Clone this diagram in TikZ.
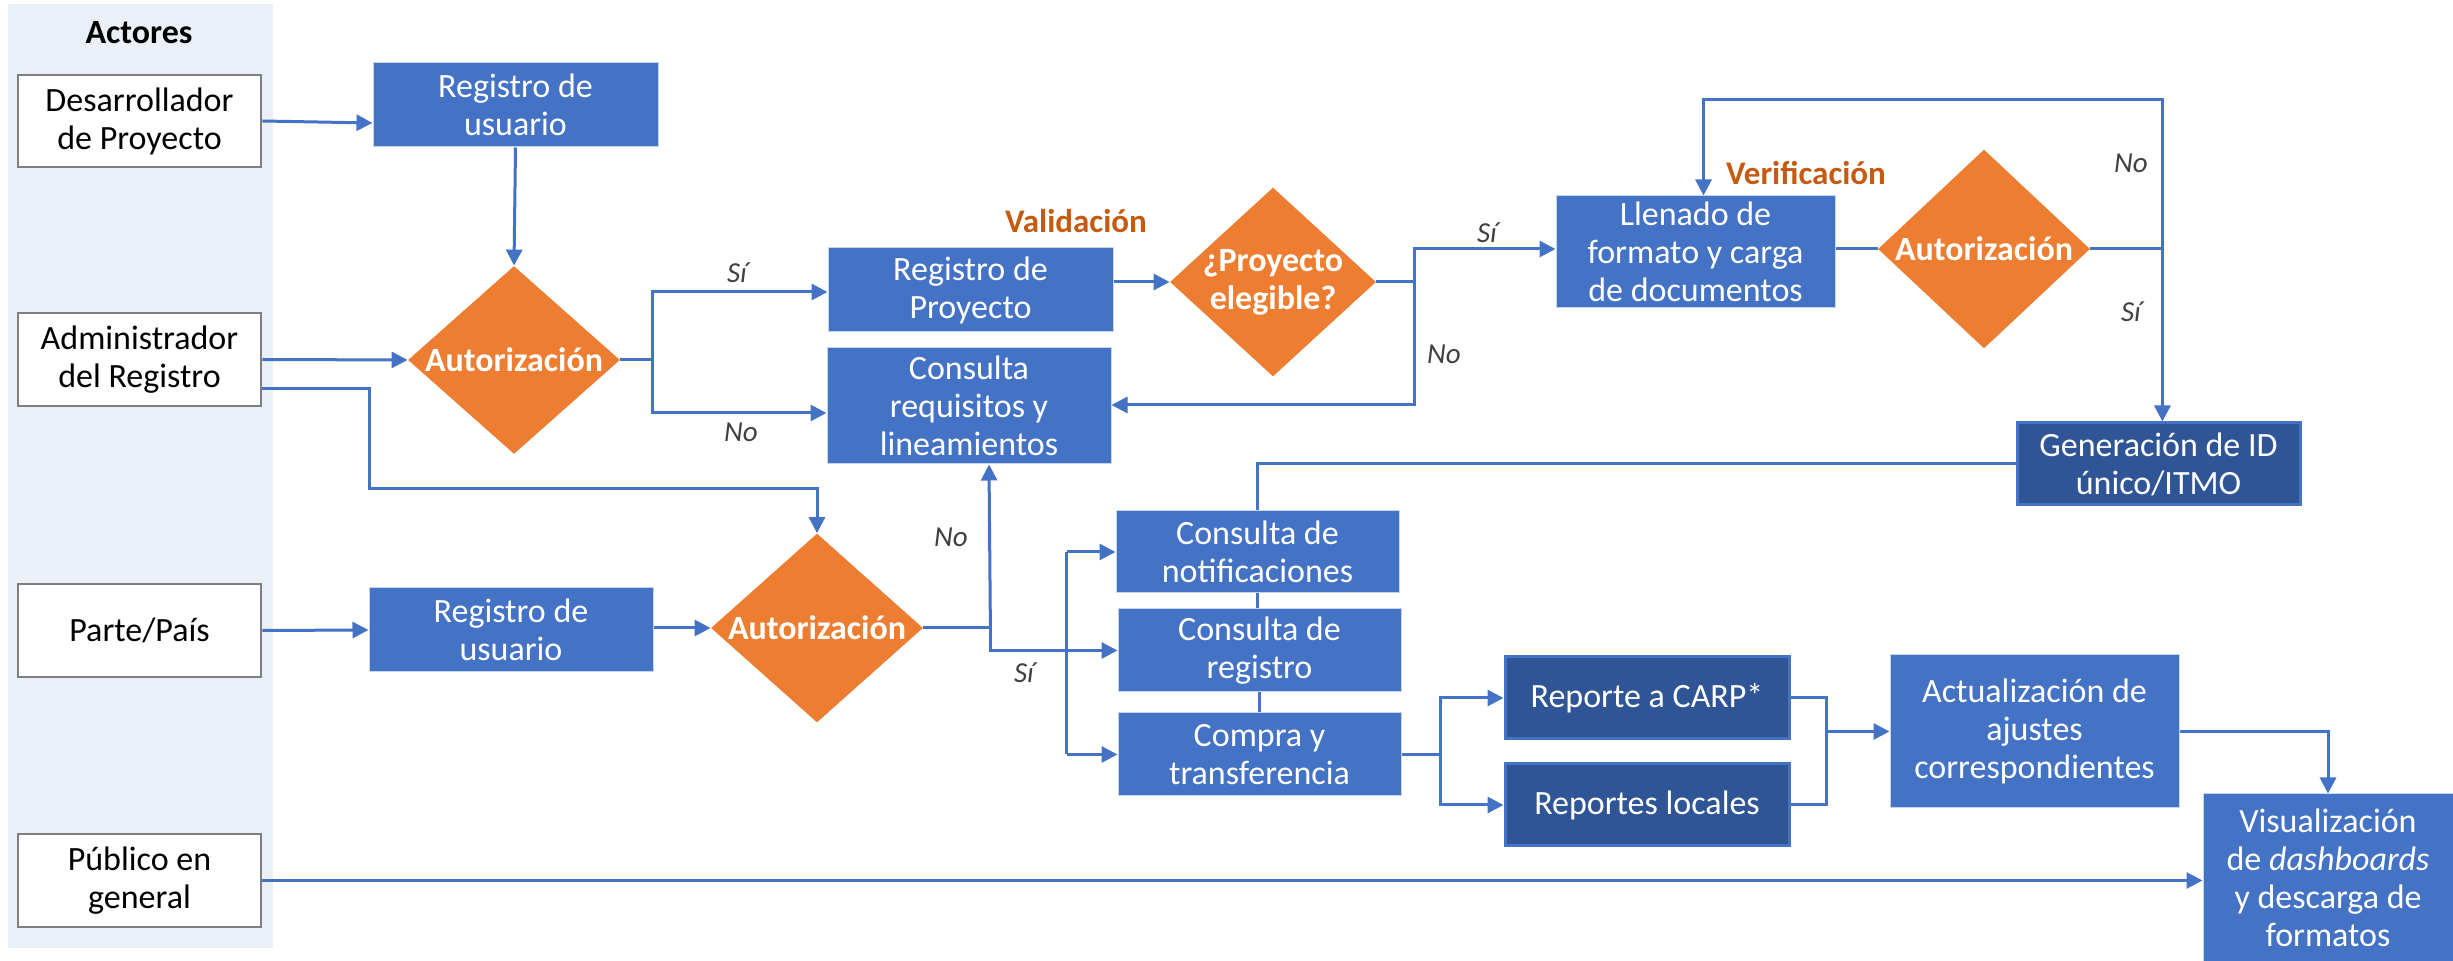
\documentclass[tikz,border=0pt]{standalone}
\usepackage{fontspec}
\setmainfont{Carlito}
\usetikzlibrary{shapes.geometric,arrows.meta,calc}
\definecolor{cblue}{HTML}{4472C4}
\definecolor{cdark}{HTML}{2F5597}
\definecolor{corange}{HTML}{ED7D31}
\definecolor{cpanel}{HTML}{EBF0F8}
\definecolor{clabel}{HTML}{C55A11}
\definecolor{cgray}{HTML}{7F7F7F}
\definecolor{ctext}{HTML}{404040}
\begin{document}
\begin{tikzpicture}[x=0.5pt,y=-0.5pt,
  wh/.style 2 args={minimum width=#1*0.5pt,minimum height=#2*0.5pt},
  base/.style={inner sep=0pt,align=center,font=\fontsize{17}{19}\selectfont},
  actor/.style={base,draw=cgray,line width=1.3pt,fill=white,text=black},
  proc/.style={base,fill=cblue,draw=white!70!cblue,line width=0.5pt,text=white},
  dproc/.style={base,fill=cdark,draw=cblue,line width=1.5pt,text=white},
  dec/.style={diamond,fill=corange,inner sep=0pt,draw=none},
  dtext/.style={base,text=white,font=\fontsize{17}{19}\selectfont\bfseries},
  lab/.style={inner sep=0pt,text=ctext,font=\fontsize{14.5}{16}\selectfont\itshape},
  stage/.style={inner sep=0pt,text=clabel,font=\fontsize{16.5}{19}\selectfont\bfseries},
  conn/.style={draw=cblue,line width=1.5pt},
  arr/.style={conn,-{Triangle[length=8pt,width=8pt]}},
]
\useasboundingbox (0,0) rectangle (2453,961);
\fill[cpanel] (8,4) rectangle (273,948);
\node[inner sep=0pt,font=\fontsize{17}{19}\selectfont\bfseries] (actores) at (139,33) {Actores};
\node[actor,wh={243}{92}] (desa) at (139.5,121) {Desarrollador\\de Proyecto};
\node[actor,wh={243}{93}] (admin) at (139.5,359.5) {Administrador\\del Registro};
\node[actor,wh={243}{93}] (parte) at (139.5,630.5) {Parte/País};
\node[actor,wh={243}{93}] (publico) at (139.5,880.5) {Público en\\general};

\node[proc,wh={285}{84}] (reg1) at (515.5,105) {Registro de\\usuario};
\node[dec,wh={212}{188}] (aut1) at (514,360) {};
\node[dtext] (aut1t) at (aut1) {Autorización};
\node[proc,wh={285}{84}] (regproy) at (970.5,290) {Registro de\\Proyecto};
\node[proc,wh={284}{116}] (consreq) at (969,406) {Consulta\\requisitos y\\lineamientos};
\node[dec,wh={206}{189}] (proyel) at (1273,282) {};
\node[dtext] (proyelt) at (proyel) {¿Proyecto\\elegible?};
\node[proc,wh={279}{112}] (llenado) at (1695.5,252) {Llenado de\\formato y carga\\de documentos};
\node[dec,wh={212}{199}] (aut3) at (1984,249) {};
\node[dtext] (aut3t) at (aut3) {Autorización};
\node[dproc,wh={283}{82}] (genid) at (2158.5,464) {Generación de ID\\único/ITMO};

\node[proc,wh={284}{84}] (reg2) at (511,630) {Registro de\\usuario};
\node[dec,wh={212}{189}] (aut2) at (817,628) {};
\node[dtext] (aut2t) at (aut2) {Autorización};
\node[proc,wh={283}{82}] (notif) at (1257.5,552) {Consulta de\\notificaciones};
\node[proc,wh={283}{83}] (consreg) at (1259.5,650.5) {Consulta de\\registro};
\node[proc,wh={283}{83}] (compra) at (1259.5,754.5) {Compra y\\transferencia};
\node[dproc,wh={284}{82}] (carp) at (1647,698) {Reporte a CARP*};
\node[dproc,wh={284}{82}] (locales) at (1647,805) {Reportes locales};
\node[proc,wh={289}{153}] (actual) at (2034.5,731.5) {Actualización de\\ajustes\\correspondientes};
\node[proc,wh={250}{167}] (visual) at (2328,877.5) {Visualización\\de \textit{dashboards}\\y descarga de\\formatos};

\node[stage] (valid) at (1076,221) {Validación};
\node[stage] (verif) at (1806,173) {Verificación};

\node[lab] (l1) at (737,273) {Sí};
\node[lab] (l2) at (741,432) {No};
\node[lab] (l3) at (1487,233) {Sí};
\node[lab] (l4) at (1444,354) {No};
\node[lab] (l5) at (2131,163) {No};
\node[lab] (l6) at (2131,312) {Sí};
\node[lab] (l7) at (951,537) {No};
\node[lab] (l8) at (1024,673) {Sí};

% connectors
\draw[arr] (desa.east) -- ($(reg1.west)+(0,18)$);
\draw[arr] (reg1.south) -- (aut1.north);
\draw[arr] (admin.east) -- (aut1.west);
\draw[arr] ($(admin.east)+(0,29.5)$) -- ++(107,0) |- ($(aut2.north)+(0,-45)$) -- (aut2.north);

\coordinate (j1) at ($(aut1.east)+(32,0)$);
\draw[conn] (aut1.east) -- (j1);
\draw[arr] (j1) |- ($(regproy.west)+(0,2)$);
\draw[arr] (j1) |- ($(consreq.west)+(0,7)$);
\draw[arr] ($(regproy.east)+(0,-8)$) -- (proyel.west);

\coordinate (j2) at ($(proyel.east)+(38,0)$);
\draw[conn] (proyel.east) -- (j2);
\draw[arr] (j2) |- ($(llenado.west)+(0,-3)$);
\draw[arr] (j2) |- ($(consreq.east)+(0,-1)$);
\draw[conn] (llenado.east |- aut3.west) -- (aut3.west);

\coordinate (j3) at ($(aut3.east)+(72,0)$);
\draw[conn] (aut3.east) -- (j3);
\draw[arr] (j3) -- ++(0,-149) -| ($(llenado.north)+(8,0)$);
\draw[arr] (j3) -- (j3 |- genid.north);
\draw[conn] (genid.west) -| (notif.north);
\draw[conn] (notif.south) -- (notif.south |- consreg.north);
\draw[conn] (consreg.south) -- (compra.north);

\draw[arr] (parte.east) -- (reg2.west);
\draw[arr] (reg2.east |- aut2.west) -- (aut2.west);
\coordinate (j4) at ($(aut2.east)+(67,0)$);
\draw[conn] (aut2.east) -- (j4);
\draw[arr] (j4) -- ($(consreq.south)+(20,0)$);
\draw[arr] (j4) |- (consreg.west);
\coordinate (b1) at ($(notif.west)+(-49,0)$);
\draw[conn] (b1) -- (b1 |- compra.west);
\draw[arr] (b1) -- (notif.west);
\draw[arr] (b1 |- compra.west) -- (compra.west);

\coordinate (j5) at ($(compra.east)+(39,0)$);
\draw[conn] (compra.east) -- (j5);
\draw[arr] (j5) |- (carp.west);
\draw[arr] (j5) |- (locales.west);
\coordinate (j6) at ($(carp.east)+(36,0)$);
\draw[conn] (carp.east) -- (j6) -- (j6 |- locales.east) -- (locales.east);
\draw[arr] (j6 |- actual.west) -- (actual.west);
\draw[arr] (actual.east) -| (visual.north);
\draw[arr] (publico.east) -- (publico.east -| visual.west);
\end{tikzpicture}
\end{document}
